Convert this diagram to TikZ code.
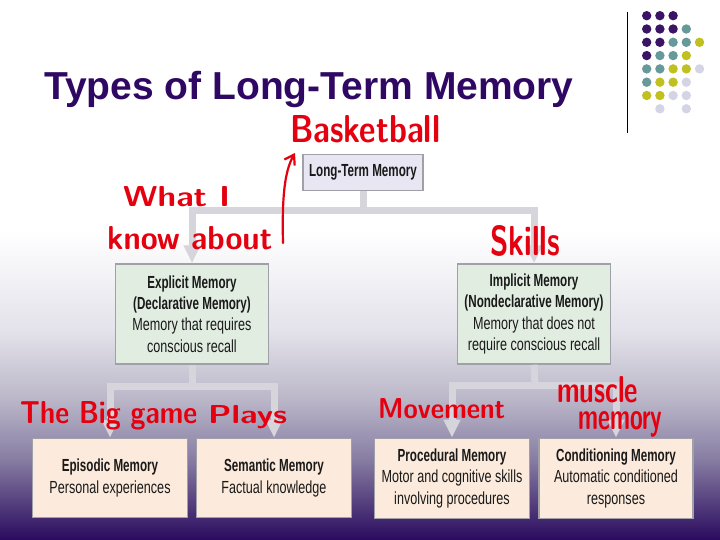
\documentclass[tikz,border=0pt]{standalone}
\usepackage{fontspec}
\usepackage{graphicx}
\setmainfont{Liberation Sans}
\newfontfamily\nreg[FakeStretch=0.72,BoldFeatures={FakeStretch=0.665}]{Liberation Sans}
\usetikzlibrary{arrows.meta}
\definecolor{titlec}{RGB}{46,8,98}
\definecolor{handc}{RGB}{228,0,14}
\definecolor{connc}{RGB}{214,213,220}
\definecolor{ltmfill}{RGB}{232,230,242}
\definecolor{greenfill}{RGB}{226,237,226}
\definecolor{peach}{RGB}{252,235,220}
\definecolor{boxline}{RGB}{160,160,168}
\definecolor{dpurple}{RGB}{60,20,102}
\definecolor{dteal}{RGB}{102,153,153}
\definecolor{dyellow}{RGB}{192,192,32}
\definecolor{dlav}{RGB}{212,212,230}
\definecolor{bgA}{RGB}{228,226,234}
\definecolor{bgB}{RGB}{186,182,200}
\definecolor{bgC}{RGB}{134,124,162}
\definecolor{bgD}{RGB}{42,10,94}
\tikzset{
  box/.style={draw=boxline, line width=1.5pt, inner sep=2pt, align=center,
    text=black!90, font=\nreg\fontsize{17.5}{21.3}\selectfont},
  conn/.style={draw=connc, line width=7pt},
  connarrow/.style={conn, -{Triangle[length=18pt,width=16pt]}},
  hwnode/.style={anchor=base west, inner sep=0pt, text=handc, font=\sffamily\bfseries},
  dot/.style={radius=4.7pt}
}
\newcommand\hw[3]{\resizebox{#1}{#2}{#3}}
\begin{document}
\begin{tikzpicture}[x=1pt,y=-1pt]
\useasboundingbox (0,0) rectangle (720,540);
% background
\fill[white] (0,0) rectangle (720,540);
\shade[top color=white,bottom color=bgA] (0,230) rectangle (720,330.5);
\shade[top color=bgA,bottom color=bgB] (0,330) rectangle (720,400.5);
\shade[top color=bgB,bottom color=bgC] (0,400) rectangle (720,460.5);
\shade[top color=bgC,bottom color=bgD] (0,460) rectangle (720,540);
% decoration
\draw[line width=1pt] (627,12) -- (627,133);
\foreach \c/\r/\col in {0/0/dpurple,1/0/dpurple,2/0/dpurple,
  0/1/dpurple,1/1/dpurple,2/1/dpurple,3/1/dteal,
  0/2/dpurple,1/2/dpurple,2/2/dteal,3/2/dteal,4/2/dyellow,
  0/3/dpurple,1/3/dteal,2/3/dteal,3/3/dyellow,
  0/4/dteal,1/4/dteal,2/4/dyellow,3/4/dyellow,4/4/dlav,
  0/5/dteal,1/5/dyellow,2/5/dyellow,3/5/dlav,
  0/6/dyellow,1/6/dyellow,2/6/dlav,3/6/dlav,
  1/7/dlav,3/7/dlav}
  \fill[\col] (646.7+13.2*\c,15.7+13.3*\r) circle[dot];
% title
\node[anchor=base west, inner sep=0pt, text=titlec,
  font=\fontsize{39}{39}\bfseries\selectfont] (title) at (44,100) {Types of Long-Term Memory};
% boxes
\node[box, fill=ltmfill, minimum width=120pt, minimum height=36pt] (ltm) at (363,172.5)
  {\textbf{Long-Term Memory}};
\node[box, fill=greenfill, minimum width=153pt, minimum height=100pt] (exp) at (192,314)
  {\textbf{Explicit Memory}\\\textbf{(Declarative Memory)}\\Memory that requires\\conscious recall};
\node[box, fill=greenfill, minimum width=153pt, minimum height=100pt] (imp) at (534,314)
  {\textbf{Implicit Memory}\\\textbf{(Nondeclarative Memory)}\\Memory that does not\\require conscious recall};
\node[box, fill=peach, minimum width=155pt, minimum height=79pt] (epi) at (110,478)
  {\textbf{Episodic Memory}\\Personal experiences};
\node[box, fill=peach, minimum width=155pt, minimum height=79pt] (sem) at (274,478)
  {\textbf{Semantic Memory}\\Factual knowledge};
\node[box, fill=peach, minimum width=155pt, minimum height=80pt] (proc) at (452,478.3)
  {\textbf{Procedural Memory}\\Motor and cognitive skills\\involving procedures};
\node[box, fill=peach, minimum width=154pt, minimum height=80pt] (cond) at (616,478.3)
  {\textbf{Conditioning Memory}\\Automatic conditioned\\responses};
% connectors
\coordinate (j1) at (363,211);
\coordinate (j2) at (192,386);
\coordinate (j3) at (535,385);
\draw[conn] (ltm.south) -- (j1);
\draw[connarrow] (j1) -| (exp.north);
\draw[connarrow] (j1) -| (imp.north);
\draw[conn] (exp.south) -- (j2);
\draw[connarrow] (j2) -| (epi.north);
\draw[connarrow] (j2) -| (sem.north);
\draw[conn] (imp.south) -- (j3);
\draw[connarrow] (j3) -| (proc.north);
\draw[connarrow] (j3) -| (cond.north);
% handwriting
\node[hwnode] (h1) at (290,143) {\hw{150pt}{27pt}{Basketball}};
\node[hwnode] (h2) at (123,207) {\hw{107pt}{20pt}{What I}};
\node[hwnode] (h3) at (107,250) {\hw{165pt}{23pt}{know about}};
\node[hwnode] (h4) at (490,255) {\hw{70pt}{30pt}{Skills}};
\node[hwnode] (h5) at (20,423) {\hw{177pt}{22pt}{The Big game}};
\node[hwnode] (h6) at (208,423) {\hw{79pt}{18pt}{Plays}};
\node[hwnode] (h7) at (378,418) {\hw{127pt}{20pt}{Movement}};
\node[hwnode, anchor=north west, align=left,
  font=\sffamily\bfseries\fontsize{20}{27}\selectfont] (h8) at (557,376)
  {\hw{81pt}{26pt}{muscle}\\\hspace*{21pt}\hw{84pt}{18pt}{memory}};
\coordinate (hs) at (283,243);
\coordinate (he) at (295,153);
\draw[handc, line width=2.2pt, line cap=round, -{Straight Barb[length=9pt,width=12pt]}]
  (hs) .. controls (282,200) and (284,172) .. (he);
\end{tikzpicture}
\end{document}
